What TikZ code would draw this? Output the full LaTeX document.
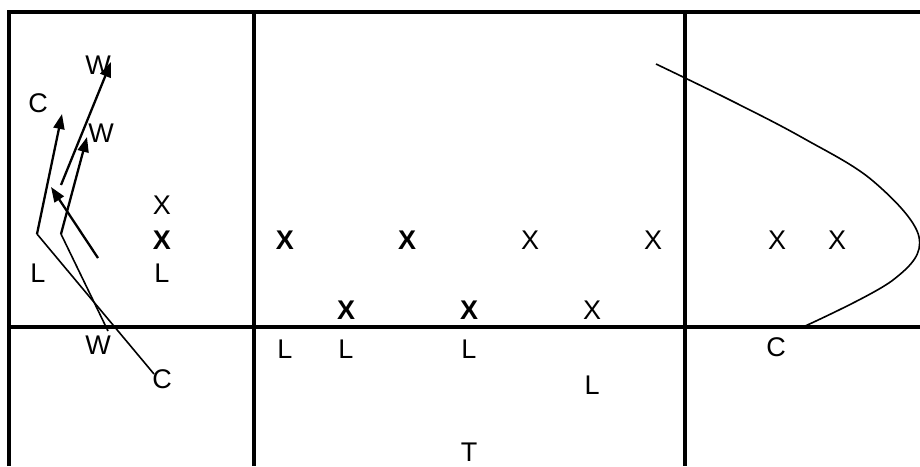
\documentclass[tikz,border=0pt]{standalone}
\usepackage{fontspec}
\setmainfont{Liberation Sans}
\usetikzlibrary{arrows.meta}
\begin{document}
\begin{tikzpicture}[x=1pt,y=-1pt,
  lbl/.style={inner sep=0pt,font=\fontsize{27}{30}\selectfont},
  blbl/.style={lbl,font=\fontsize{27}{30}\selectfont\bfseries},
  field/.style={line width=3.3pt},
  route/.style={line width=1.6pt},
  arr/.style={line width=2.3pt,-{Triangle[length=15pt,width=11pt]}}]
\useasboundingbox (0,0) rectangle (920,466);
% field lines
\coordinate (tl) at (9,12); \coordinate (tr) at (920,12);
\coordinate (ml) at (9,327); \coordinate (mr) at (920,327);
\coordinate (v1t) at (254,12); \coordinate (v1b) at (254,466);
\coordinate (v2t) at (685,12); \coordinate (v2b) at (685,466);
\coordinate (v0b) at (9,466);
\draw[field] (v0b) -- (tl) -- (tr);
\draw[field] (ml) -- (mr);
\draw[field] (v1t) -- (v1b);
\draw[field] (v2t) -- (v2b);
% left labels
\node[lbl] (w1) at (98,65) {W};
\node[lbl] (c1) at (38,103) {C};
\node[lbl] (w2) at (101,133) {W};
\node[lbl] (x1) at (162,205) {X};
\node[blbl] (x2) at (162,240) {X};
\node[lbl] (l1) at (38,273) {L};
\node[lbl] (l2) at (162,273) {L};
\node[lbl] (w3) at (98,345) {W};
\node[lbl] (c2) at (162,379) {C};
% middle labels
\node[blbl] (x3) at (285,240) {X};
\node[blbl] (x4) at (407,240) {X};
\node[lbl] (x5) at (530,240) {X};
\node[lbl] (x6) at (653,240) {X};
\node[blbl] (x7) at (346,310) {X};
\node[blbl] (x8) at (469,310) {X};
\node[lbl] (x9) at (592,310) {X};
\node[lbl] (l3) at (285,349) {L};
\node[lbl] (l4) at (346,349) {L};
\node[lbl] (l5) at (469,349) {L};
\node[lbl] (l6) at (592,385) {L};
\node[lbl] (t1) at (469,452) {T};
% right labels
\node[lbl] (x10) at (777,240) {X};
\node[lbl] (x11) at (837,240) {X};
\node[lbl] (c3) at (776,347) {C};
% routes
\coordinate (ka) at (37,234);
\coordinate (kb) at (61,234);
\coordinate (ea) at (154,374);
\coordinate (eb) at (108,331);
\coordinate (s1) at (61,185);
\coordinate (h1) at (111,62);
\coordinate (h2) at (62,114);
\coordinate (h3) at (87,137);
\coordinate (s4) at (98,258);
\coordinate (h4) at (51,187);
\draw[route] (ea) -- (ka);
\draw[arr] (ka) -- (h2);
\draw[route] (eb) -- (kb);
\draw[arr] (kb) -- (h3);
\draw[arr] (s1) -- (h1);
\draw[arr] (s4) -- (h4);
% right curve
\draw[route] plot[smooth,tension=0.6] coordinates {(656,64) (730,100) (803,138) (873,181) (919,237) (893,280) (803,327)};
\end{tikzpicture}
\end{document}
